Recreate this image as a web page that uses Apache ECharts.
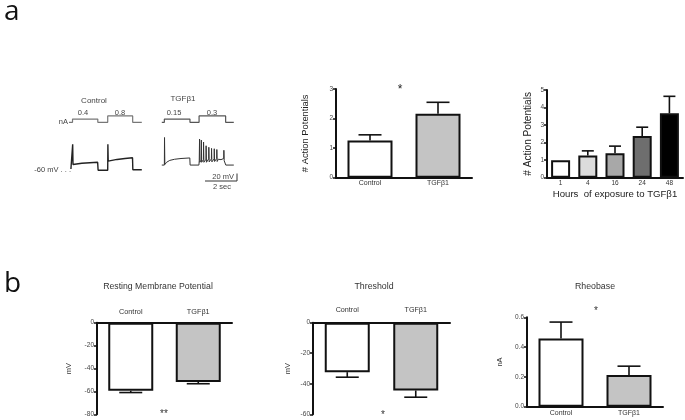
<!DOCTYPE html>
<html><head><meta charset="utf-8">
<script src="https://cdn.jsdelivr.net/npm/echarts@6/dist/echarts.min.js"></script>
<style>html,body{margin:0;padding:0;background:#fff}#c{width:685px;height:420px}</style>
</head><body><div id="c"></div>
<script>
// ---------- DATA ----------
// Panel a, example traces (time in s, current in nA, voltage in mV)
const controlCurrent = [[0,0],[0.22,0],[0.22,0.4],[1.8,0.4],[1.8,0],[2.42,0],[2.42,0.8],[3.98,0.8],[3.98,0],[4.55,0]];
const tgfCurrent = [[5.8,0],[5.96,0],[5.96,0.15],[7.56,0.15],[7.56,0],[8.13,0],[8.13,0.3],[9.79,0.3],[9.79,0],[10.3,0]];
const controlVoltage = [[0.12,-60],[0.22,-60],[0.23,6],[0.25,-48],[0.3,-46],[0.8,-44.5],[1.3,-43.2],[1.79,-42],[1.82,-63.5],[2.42,-63.5],[2.43,6],[2.45,-39],[2.5,-37],[3.0,-34.5],[3.5,-32],[3.97,-30],[3.99,-62],[4.55,-62]];
const tgfVoltage = [[5.8,-49.5],[5.96,-49.5],[5.97,24],[5.99,-48],[6.1,-42],[6.3,-37],[6.6,-34],[7.0,-32],[7.55,-30.5],[7.57,-49.5],[8.12,-49.5],
  [8.14,-38],[8.16,20],[8.18,-42],[8.26,-36],[8.27,17],[8.29,-42],[8.4,-35],[8.41,12],[8.43,-42],[8.56,-34],[8.57,2],[8.59,-42],
  [8.73,-33],[8.74,-2],[8.76,-41],[8.9,-33],[8.91,-5],[8.93,-41],[9.07,-33],[9.08,-6],[9.1,-40],[9.23,-32],[9.24,-8],[9.26,-40],
  [9.33,-34],[9.42,-31],[9.5,-35],[9.58,-31],[9.67,-32],[9.68,-10],[9.7,-38],[9.78,-33],[9.8,-49.5],[10.3,-49.5]];
const scaleBar = [[8.5,-92],[10.5,-92],[10.5,-72]];

// Panel a, # action potentials
const apCategories = ['Control', 'TGFβ1'];
const apMeans = [1.26, 2.16];
const apErrors = [0.19, 0.39];

// Panel a, time course
const hourCategories = ['1', '4', '16', '24', '48'];
const hourMeans = [1.0, 1.27, 1.4, 2.38, 3.67];
const hourErrors = [0, 0.26, 0.4, 0.5, 0.97];

// Panel b
const groupCategories = ['Control', 'TGFβ1'];
const rmpMeans = [-59.5, -51.8];
const rmpErrors = [1.5, 1.5];
const thrMeans = [-32.4, -44.4];
const thrErrors = [3.3, 4.4];
const rheoMeans = [0.458, 0.212];
const rheoErrors = [0.11, 0.06];

// ---------- CHART ----------
const FONT = 'Liberation Sans, Arial, sans-serif';
const chart = echarts.init(document.getElementById('c'), null, {renderer: 'canvas'});

function catAxis(grid, cats, opts) {
  return Object.assign({
    type: 'category', gridIndex: grid, data: cats,
    axisLine: {show: true, onZero: false, lineStyle: {color: '#111', width: 2}},
    axisTick: {show: false},
    axisLabel: {fontSize: 7, color: '#333', fontFamily: FONT, margin: 2}
  }, opts || {});
}
function valAxis(grid, min, max, interval, opts) {
  return Object.assign({
    type: 'value', gridIndex: grid, min: min, max: max, interval: interval,
    axisLine: {show: true, lineStyle: {color: '#111', width: 2}},
    axisTick: {show: true, length: 3, lineStyle: {color: '#111', width: 1.5}},
    axisLabel: {fontSize: 6.5, color: '#444', fontFamily: FONT, margin: 3},
    splitLine: {show: false},
    nameLocation: 'middle', nameRotate: 90,
    nameTextStyle: {fontSize: 7.5, color: '#333', fontFamily: FONT}
  }, opts || {});
}
function errSeries(xi, yi, means, errs, half) {
  return {
    type: 'custom', xAxisIndex: xi, yAxisIndex: yi, z: 5,
    data: means.map((m, i) => [i, m, errs[i]]),
    encode: {x: 0, y: 1},
    renderItem: function (params, api) {
      const i = api.value(0), m = api.value(1), e = api.value(2);
      if (!e) return null;
      const end = m >= 0 ? m + e : m - e;
      const p0 = api.coord([i, m]), p1 = api.coord([i, end]);
      const st = {stroke: '#111', lineWidth: 1.6};
      return {type: 'group', children: [
        {type: 'line', shape: {x1: p0[0], y1: p0[1], x2: p1[0], y2: p1[1]}, style: st},
        {type: 'line', shape: {x1: p1[0] - half, y1: p1[1], x2: p1[0] + half, y2: p1[1]}, style: st}
      ]};
    }
  };
}
function barSeries(xi, yi, means, colors, width) {
  return {
    type: 'bar', xAxisIndex: xi, yAxisIndex: yi, barWidth: width,
    data: means.map((m, i) => ({value: m, itemStyle: {color: colors[i % colors.length]}})),
    itemStyle: {borderColor: '#111', borderWidth: 2}
  };
}
function txt(x, y, text, size, align, color, family) {
  return {type: 'text', x: x, y: y, style: {
    text: text, fontSize: size, fontFamily: family || FONT, fill: color || '#333',
    align: align || 'center', textAlign: align || 'center',
    verticalAlign: 'middle', textVerticalAlign: 'middle'}};
}

const TGF_GRAY = '#c4c4c4';
const option = {
  animation: false,
  backgroundColor: '#fff',
  grid: [
    {left: 69, top: 114.3, width: 169, height: 8},      // 0 current traces
    {left: 69, top: 131.5, width: 169, height: 52.5},   // 1 voltage traces
    {left: 336, top: 89, width: 136, height: 88.7},     // 2 # APs
    {left: 547, top: 90, width: 136, height: 87.7},     // 3 hours
    {left: 97, top: 322.7, width: 135, height: 91.6},   // 4 RMP
    {left: 313, top: 322.7, width: 137, height: 91.6},  // 5 Threshold
    {left: 527, top: 317.3, width: 136, height: 89.4}   // 6 Rheobase
  ],
  xAxis: [
    {type: 'value', gridIndex: 0, min: 0, max: 10.5625, show: false},
    {type: 'value', gridIndex: 1, min: 0, max: 10.5625, show: false},
    catAxis(2, apCategories),
    catAxis(3, hourCategories, {
      axisLabel: {fontSize: 6.5, color: '#333', fontFamily: FONT, margin: 2},
      name: 'Hours  of exposure to TGFβ1', nameLocation: 'middle', nameGap: 12,
      nameTextStyle: {fontSize: 9.6, color: '#222', fontFamily: FONT}}),
    catAxis(4, groupCategories, {position: 'top', axisLabel: {fontSize: 7.3, color: '#333', fontFamily: FONT, margin: 7}}),
    catAxis(5, groupCategories, {position: 'top', axisLabel: {fontSize: 7.2, color: '#333', fontFamily: FONT, margin: 9}}),
    catAxis(6, groupCategories, {axisLabel: {fontSize: 7, color: '#333', fontFamily: FONT, margin: 3}})
  ],
  yAxis: [
    {type: 'value', gridIndex: 0, min: 0, max: 1.0, show: false},
    {type: 'value', gridIndex: 0, min: 0, max: 0.375, show: false},
    {type: 'value', gridIndex: 1, min: -100, max: 40, show: false},
    valAxis(2, 0, 3, 1, {name: '# Action Potentials', nameGap: 26, nameTextStyle: {fontSize: 9.4, color: '#222', fontFamily: FONT}}),
    valAxis(3, 0, 5, 1, {name: '# Action Potentials', nameGap: 14, nameTextStyle: {fontSize: 10.1, color: '#222', fontFamily: FONT}}),
    valAxis(4, -80, 0, 20, {name: 'mV', nameGap: 24}),
    valAxis(5, -60, 0, 20, {name: 'mV', nameGap: 21}),
    valAxis(6, 0, 0.6, 0.2, {name: 'nA', nameGap: 23, axisLabel: {fontSize: 6.5, color: '#444', fontFamily: FONT, margin: 3, formatter: v => v.toFixed(1)}})
  ],
  series: [
    {type: 'line', xAxisIndex: 0, yAxisIndex: 0, data: controlCurrent, showSymbol: false, lineStyle: {color: '#777', width: 1.2}},
    {type: 'line', xAxisIndex: 0, yAxisIndex: 1, data: tgfCurrent, showSymbol: false, lineStyle: {color: '#555', width: 1.2}},
    {type: 'line', xAxisIndex: 1, yAxisIndex: 2, data: controlVoltage, showSymbol: false, lineStyle: {color: '#222', width: 1.4}},
    {type: 'line', xAxisIndex: 1, yAxisIndex: 2, data: tgfVoltage, showSymbol: false, lineStyle: {color: '#333', width: 1}},
    {type: 'line', xAxisIndex: 1, yAxisIndex: 2, data: scaleBar, showSymbol: false, lineStyle: {color: '#333', width: 1}},

    barSeries(2, 3, apMeans, ['#fff', TGF_GRAY], 45),
    errSeries(2, 3, apMeans, apErrors, 11.5),

    barSeries(3, 4, hourMeans, ['#ffffff', '#dcdcdc', '#a8a8a8', '#6e6e6e', '#000000'], 19),
    errSeries(3, 4, hourMeans, hourErrors, 6),

    barSeries(4, 5, rmpMeans, ['#fff', TGF_GRAY], 45),
    errSeries(4, 5, rmpMeans, rmpErrors, 11.5),

    barSeries(5, 6, thrMeans, ['#fff', TGF_GRAY], 45),
    errSeries(5, 6, thrMeans, thrErrors, 11.5),

    barSeries(6, 7, rheoMeans, ['#fff', TGF_GRAY], 45),
    errSeries(6, 7, rheoMeans, rheoErrors, 11.5)
  ],
  graphic: [
    txt(4, 12, 'a', 28, 'left', '#111', 'Open Sans'),
    txt(4, 284, 'b', 28, 'left', '#111', 'Open Sans'),
    txt(94, 101, 'Control', 8, 'center', '#444'),
    txt(183, 99, 'TGFβ1', 8, 'center', '#444'),
    txt(83, 113, '0.4', 7.5, 'center', '#444'),
    txt(120, 113, '0.8', 7.5, 'center', '#444'),
    txt(174, 113, '0.15', 7.5, 'center', '#444'),
    txt(212, 113, '0.3', 7.5, 'center', '#444'),
    txt(68, 121.5, 'nA', 7.5, 'right', '#444'),
    txt(71, 169.5, '-60 mV . . .', 7.5, 'right', '#444'),
    txt(234, 176.5, '20 mV', 7.5, 'right', '#444'),
    txt(222, 186.5, '2 sec', 7.5, 'center', '#444'),
    txt(400, 90, '*', 12, 'center', '#222'),
    txt(158, 287, 'Resting Membrane Potential', 8.7, 'center', '#333'),
    txt(374, 287, 'Threshold', 8.8, 'center', '#333'),
    txt(595, 287, 'Rheobase', 8.8, 'center', '#333'),
    txt(164, 414, '**', 10, 'center', '#333'),
    txt(383, 415, '*', 10, 'center', '#333'),
    txt(596, 311, '*', 10, 'center', '#333')
  ]
};
chart.setOption(option);
</script></body></html>
